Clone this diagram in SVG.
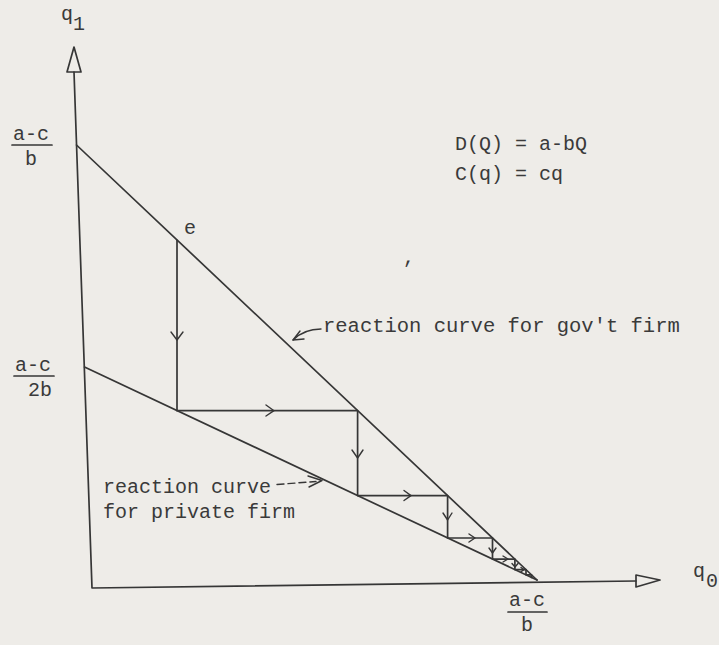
<svg xmlns="http://www.w3.org/2000/svg" width="719" height="645" viewBox="0 0 719 645">
<style>
.ln{fill:none;stroke:#363636;stroke-width:1.7;stroke-linecap:round;stroke-linejoin:round}
.ar{fill:none;stroke:#363636;stroke-width:1.4;stroke-linecap:round;stroke-linejoin:round}
.tx{font-family:"Liberation Mono","DejaVu Sans Mono",monospace;font-size:20px;fill:#3a3a3a}
</style>
<rect width="719" height="645" fill="#eeece8"/>
<g id="axes">
<path class="ln" d="M74,72 L92,588 L636,581"/>
<path class="ln" d="M74,47 L67,72 L81,72 Z"/>
<path class="ln" d="M636,575 L660,580 L636,587 Z"/>
</g>
<g id="curves">
<path id="gov-curve" class="ln" d="M76.5,145 L537,580"/>
<path id="private-curve" class="ln" d="M84.5,367 L537,580"/>
</g>
<g id="connectors">
<path class="ln" d="M177,240.3 V410.7 H357.6 V495.6 H447.6 V538 H492.5 V559.1 H514.9 V569.6 H526 V574.8 H531.5 V577.4"/>
<path class="ar" d="M171,332 L177,340 L183,332"/>
<path class="ar" d="M266,405 L274,410.7 L266,416"/>
<path class="ar" d="M352,450 L357.6,458 L363,450"/>
<path class="ar" d="M404,490.5 L411,495.6 L404,500.5"/>
<path class="ar" d="M443,513 L447.6,520 L452,513"/>
<path class="ar" d="M469,534 L475,538 L469,542"/>
<path class="ar" d="M489,548 L492.5,553 L496,548"/>
<path class="ar" d="M503,556 L508,559 L503,562"/>
<path class="ar" d="M512,563.5 L515,567 L518,563.5"/>
<path class="ar" d="M521,567.5 L524,569.6 L521,571.7"/>
<path class="ar" d="M321,329 C312,329 301,332 293,340"/>
<path class="ar" d="M300,331 L293,340 L304,339"/>
<path class="ar" d="M277,484.5 L316,481.5" stroke-dasharray="7,4"/>
<path class="ar" d="M308,476 L322,480.5 L309,487"/>
</g>
<g id="labels">
<text class="tx" x="61" y="20">q</text>
<text class="tx" x="73" y="30">1</text>
<text class="tx" x="13" y="140">a-c</text>
<line class="ln" x1="12" y1="145" x2="52" y2="145"/>
<text class="tx" x="25" y="165">b</text>
<text class="tx" x="15" y="371">a-c</text>
<line class="ln" x1="14" y1="376" x2="54" y2="376"/>
<text class="tx" x="28" y="396">2b</text>
<text class="tx" x="455" y="150">D(Q) = a-bQ</text>
<text class="tx" x="455" y="180">C(q) = cq</text>
<text class="tx" x="403" y="263">,</text>
<text class="tx" x="184" y="234">e</text>
<text class="tx" x="323" y="332" style="font-size:20.5px">reaction curve for gov't firm</text>
<text class="tx" x="103" y="493">reaction curve</text>
<text class="tx" x="103" y="518">for private firm</text>
<text class="tx" x="693" y="577">q</text>
<text class="tx" x="706" y="587">0</text>
<text class="tx" x="509" y="606">a-c</text>
<line class="ln" x1="508" y1="612" x2="547" y2="612"/>
<text class="tx" x="521" y="631">b</text>
</g>
</svg>
